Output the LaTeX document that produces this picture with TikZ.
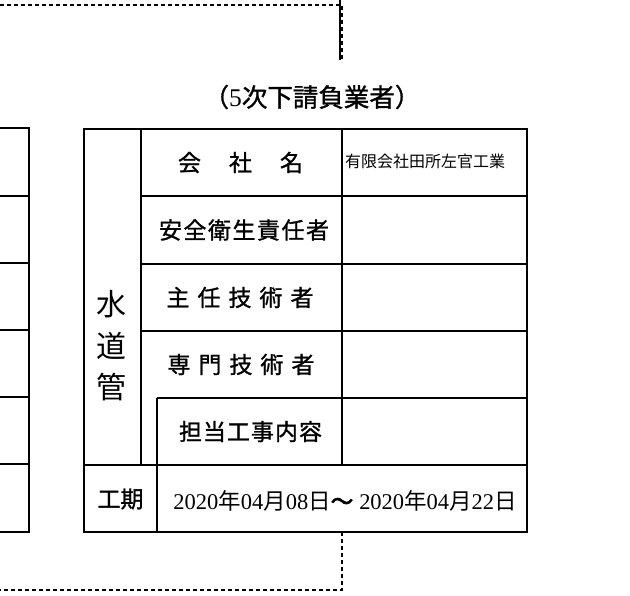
\documentclass[tikz,border=0pt]{standalone}
\usepackage{fontspec}
\newfontfamily\jp{Noto Sans CJK JP}
\newfontfamily\jpm{Noto Sans CJK JP}[FakeBold=1.2]
\newfontfamily\jpb{Noto Sans CJK JP}[FakeBold=3]
\newfontfamily\ser{Liberation Serif}
\begin{document}
\begin{tikzpicture}[x=1pt,y=-1pt,
  tl/.style={line width=1.6pt},
  dl/.style={line width=1.5pt, dash pattern=on 4pt off 3pt},
  lbl/.style={inner sep=0pt, font=\jpm\fontsize{23}{23}\selectfont},
  thin/.style={inner sep=0pt, font=\jp\fontsize{16}{16}\selectfont},
  date/.style={inner sep=0pt, font=\jp\fontsize{22.5}{22.5}\selectfont}]
\useasboundingbox (0,0) rectangle (630,596);
% dashed connectors
\coordinate (tl0) at (0,5);
\coordinate (tc) at (342,5);
\coordinate (tcb) at (342,62);
\draw[dl] (tl0) -- (tc) -- (tcb);
\draw[line width=2pt] (339.5,0) -- (339.5,60);
\coordinate (bt) at (342,532);
\coordinate (bc) at (342,590);
\coordinate (bl) at (0,590);
\draw[dl] (bt) -- (bc) -- (bl);
% left partial table
\draw[tl] (0,128) -- (29,128) -- (29,532) -- (0,532);
\foreach \yy in {196,263,330,397,464} \draw[tl] (0,\yy) -- (29,\yy);
% main table
\draw[tl] (84,129) rectangle (527,532);
\draw[tl] (141,129) -- (141,465);
\draw[tl] (342,129) -- (342,465);
\draw[tl] (141,196) -- (527,196);
\draw[tl] (141,264) -- (527,264);
\draw[tl] (141,331) -- (527,331);
\draw[tl] (157,398) -- (527,398);
\draw[tl] (157,398) -- (157,532);
\draw[tl] (84,465) -- (527,465);
% title
\node[inner sep=0pt, font=\jpm\fontsize{25.5}{25.5}\selectfont] (title) at (312,97) {（{\ser 5}次下請負業者）};
% labels
\node[lbl] (kaisha) at (240.5,162.5) {会\hspace{28pt}社\hspace{28pt}名};
\node[lbl] (anzen) at (244,230) {安\hspace{1.5pt}全\hspace{1.5pt}衛\hspace{1.5pt}生\hspace{1.5pt}責\hspace{1.5pt}任\hspace{1.5pt}者};
\node[lbl] (shunin) at (240,297.5) {主\hspace{8pt}任\hspace{8pt}技\hspace{8pt}術\hspace{8pt}者};
\node[lbl] (senmon) at (241,364.5) {専\hspace{8pt}門\hspace{8pt}技\hspace{8pt}術\hspace{8pt}者};
\node[lbl] (tanto) at (250.5,431.5) {担\hspace{1pt}当\hspace{1pt}工\hspace{1pt}事\hspace{1pt}内\hspace{1pt}容};
\node[lbl] (koki) at (120.5,499) {工期};
\node[inner sep=0pt, align=center, font=\jp\fontsize{30}{41.5}\selectfont] (suido) at (111.5,346) {水\\道\\管};
% values
\node[thin, anchor=west] (company) at (345,161) {有限会社田所左官工業};
\node[date] (dates) at (345,501) {{\ser 2020}年{\ser 04}月{\ser 08}日{\jpb 〜}\hspace{6pt}{\ser 2020}年{\ser 04}月{\ser 22}日};
\end{tikzpicture}
\end{document}
